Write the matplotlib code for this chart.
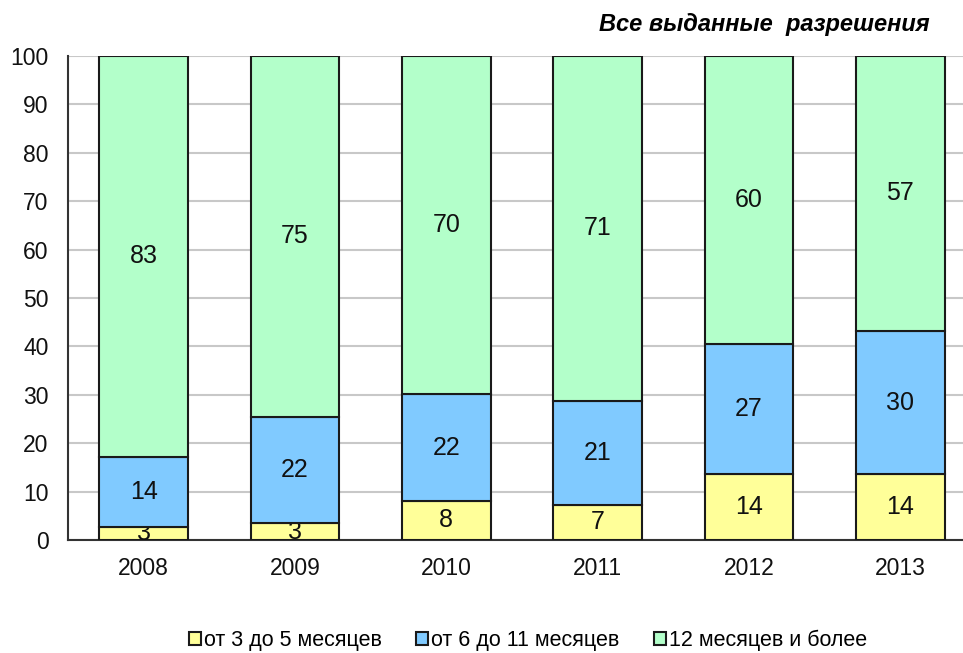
import numpy as np
import matplotlib.pyplot as plt

plt.rcParams['font.family'] = ['Liberation Sans', 'DejaVu Sans']

years = ['2008', '2009', '2010', '2011', '2012', '2013']
short = [2.7, 3.5, 8.1, 7.3, 13.6, 13.6]      # от 3 до 5 месяцев
mid = [14.5, 22.0, 22.0, 21.5, 26.8, 29.6]     # от 6 до 11 месяцев
long_ = [100 - a - b for a, b in zip(short, mid)]  # 12 месяцев и более

short_lbl = ['3', '3', '8', '7', '14', '14']
mid_lbl = ['14', '22', '22', '21', '27', '30']
long_lbl = ['83', '75', '70', '71', '60', '57']

names = ['от 3 до 5 месяцев', 'от 6 до 11 месяцев', '12 месяцев и более']
colors = ['#FFFF99', '#80CAFF', '#B3FFCA']


def main():
    fig = plt.figure(figsize=(9.63, 6.53), dpi=100)
    ax = fig.add_axes([68 / 963, 113 / 653, 908 / 963, 484 / 653])

    x = np.arange(len(years))
    w = 0.585
    bottom = np.zeros(len(years))
    for vals, lbls, col, name in zip([short, mid, long_],
                                     [short_lbl, mid_lbl, long_lbl],
                                     colors, names):
        bars = ax.bar(x, vals, w, bottom=bottom, color=col,
                      edgecolor='#1a1a1a', linewidth=1.5, label=name, zorder=3)
        ax.bar_label(bars, labels=lbls, label_type='center', fontsize=18,
                     color='#111111')
        bottom += np.array(vals)

    ax.set_xlim(-0.5, 5.5)
    ax.set_ylim(0, 100)
    ax.set_yticks(range(0, 101, 10))
    ax.set_xticks(x)
    ax.set_xticklabels(years)
    ax.tick_params(axis='both', length=0, labelsize=16.5, colors='#111111')
    ax.tick_params(axis='x', pad=12)
    ax.tick_params(axis='y', pad=14)
    ax.yaxis.grid(True, color='#C8C8C8', linewidth=1.5, zorder=0)
    ax.set_axisbelow(True)
    for s in ['top', 'right']:
        ax.spines[s].set_visible(False)
    ax.spines['left'].set_linewidth(1.5)
    ax.spines['bottom'].set_linewidth(1.5)
    ax.spines['left'].set_color('#333333')
    ax.spines['bottom'].set_color('#333333')

    fig.text(930 / 963, 1 - 25 / 653, 'Все выданные  разрешения',
             ha='right', va='center', fontsize=17, fontweight='bold',
             style='italic')

    fig.legend(loc='center', bbox_to_anchor=(528 / 963, 1 - 640 / 653),
               ncol=3, frameon=False, fontsize=15.5, handlelength=0.55,
               handleheight=0.55, handletextpad=0.15, columnspacing=1.6)

    fig.savefig('out.png', dpi=100)


main()
